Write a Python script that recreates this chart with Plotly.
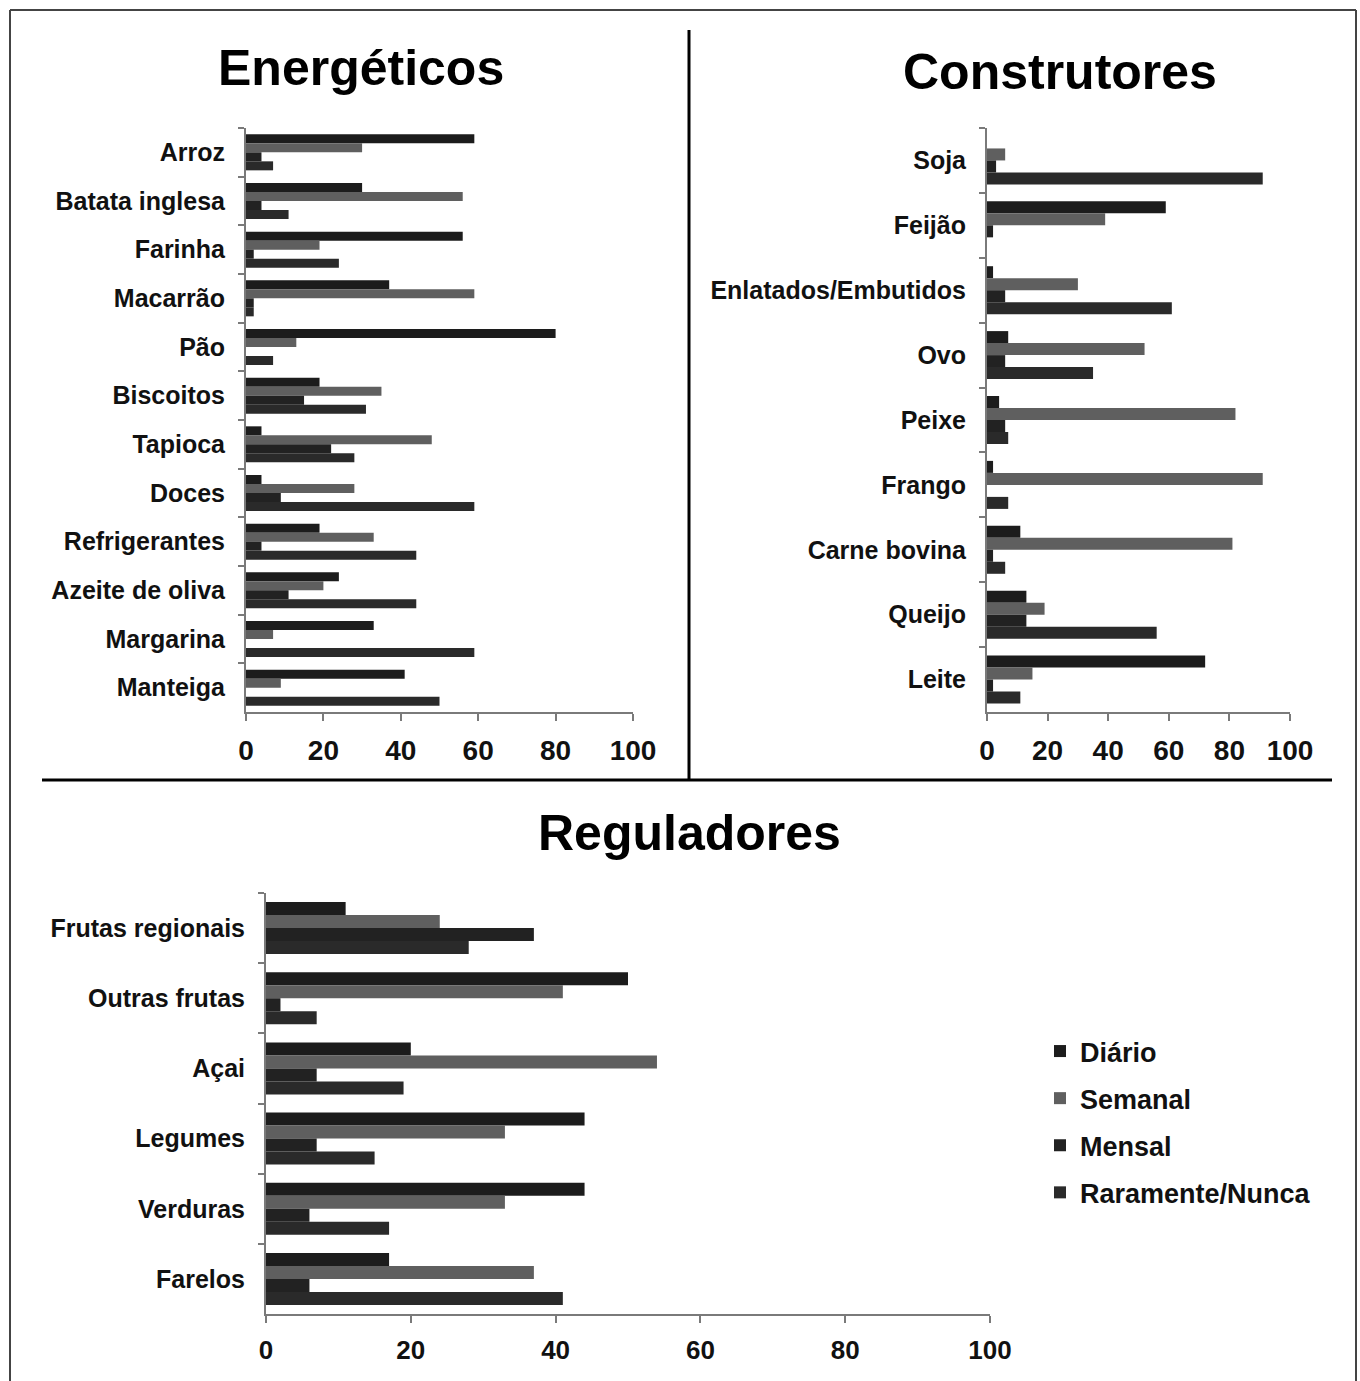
import plotly.graph_objects as go

# ---- data (% of respondents by consumption frequency) ----
series_names = ["Diário", "Semanal", "Mensal", "Raramente/Nunca"]
series_colors = ["#1c1c1c", "#5f5f5f", "#222222", "#2a2a2a"]

energ_cats = ["Arroz", "Batata inglesa", "Farinha", "Macarrão", "Pão", "Biscoitos",
              "Tapioca", "Doces", "Refrigerantes", "Azeite de oliva", "Margarina", "Manteiga"]
energ_diario = [59, 30, 56, 37, 80, 19, 4, 4, 19, 24, 33, 41]
energ_semanal = [30, 56, 19, 59, 13, 35, 48, 28, 33, 20, 7, 9]
energ_mensal = [4, 4, 2, 2, 0, 15, 22, 9, 4, 11, 0, 0]
energ_raro = [7, 11, 24, 2, 7, 31, 28, 59, 44, 44, 59, 50]

constr_cats = ["Soja", "Feijão", "Enlatados/Embutidos", "Ovo", "Peixe", "Frango",
               "Carne bovina", "Queijo", "Leite"]
constr_diario = [0, 59, 2, 7, 4, 2, 11, 13, 72]
constr_semanal = [6, 39, 30, 52, 82, 91, 81, 19, 15]
constr_mensal = [3, 2, 6, 6, 6, 0, 2, 13, 2]
constr_raro = [91, 0, 61, 35, 7, 7, 6, 56, 11]

regul_cats = ["Frutas regionais", "Outras frutas", "Açai", "Legumes", "Verduras", "Farelos"]
regul_diario = [11, 50, 20, 44, 44, 17]
regul_semanal = [24, 41, 54, 33, 33, 37]
regul_mensal = [37, 2, 7, 7, 6, 6]
regul_raro = [28, 7, 19, 15, 17, 41]

x_ticks = [0, 20, 40, 60, 80, 100]

W, H = 1360, 1381
FONT = "Liberation Sans, Arial, sans-serif"


def px(x):
    return x / W


def py(y):
    return 1 - y / H


panels = [
    # categories, series, x-axis id, y-axis id, x span (px), y span (px), title, title pos, label size, tick size
    (energ_cats, [energ_diario, energ_semanal, energ_mensal, energ_raro], "x", "y",
     (246, 633), (128, 712), "Energéticos", (361, 68), 25, 28),
    (constr_cats, [constr_diario, constr_semanal, constr_mensal, constr_raro], "x2", "y2",
     (987, 1290), (128, 712), "Construtores", (1060, 72), 25, 28),
    (regul_cats, [regul_diario, regul_semanal, regul_mensal, regul_raro], "x3", "y3",
     (266, 990), (893, 1314), "Reguladores", (689, 833), 25, 26),
]

fig = go.Figure()
layout_axes = {}
annotations = []

for i, (cats, values, xa, ya, xs, ys, title, tpos, lsize, tsize) in enumerate(panels):
    for name, color, vals in zip(series_names, series_colors, values):
        fig.add_trace(go.Bar(
            y=cats, x=vals, name=name, orientation="h",
            marker=dict(color=color, line=dict(width=0)),
            xaxis=xa, yaxis=ya,
            legendgroup=name, showlegend=(i == 2),
        ))
    xkey = "xaxis" if xa == "x" else "xaxis" + xa[1:]
    ykey = "yaxis" if ya == "y" else "yaxis" + ya[1:]
    layout_axes[xkey] = dict(
        domain=[px(xs[0]), px(xs[1])], range=[0, 100], anchor=ya, automargin=False,
        tickvals=x_ticks, ticks="outside", ticklen=7, tickwidth=2, tickcolor="#7a7a7a",
        showline=True, linecolor="#7a7a7a", linewidth=2, showgrid=False, zeroline=False,
        tickfont=dict(family=FONT, size=tsize, color="#111", weight="bold"),
        ticklabelstandoff=5, fixedrange=True,
    )
    layout_axes[ykey] = dict(
        domain=[py(ys[1]), py(ys[0])], anchor=xa, autorange="reversed", automargin=False,
        type="category", tickson="boundaries", ticks="outside", ticklen=6, tickwidth=2,
        tickcolor="#7a7a7a", showline=True, linecolor="#7a7a7a", linewidth=2,
        showgrid=False, tickfont=dict(family=FONT, size=lsize, color="#111", weight="bold"),
        ticklabelstandoff=14, fixedrange=True,
    )
    annotations.append(dict(
        text="<b>" + title + "</b>", x=px(tpos[0]), y=py(tpos[1]), xref="paper", yref="paper",
        xanchor="center", yanchor="middle", showarrow=False,
        font=dict(family=FONT, size=50, color="#000"),
    ))

shapes = [
    # outer frame
    dict(type="line", xref="paper", yref="paper", x0=px(10), x1=px(1356), y0=py(10), y1=py(10),
         line=dict(color="#444", width=2)),
    dict(type="line", xref="paper", yref="paper", x0=px(10), x1=px(10), y0=py(10), y1=py(1381),
         line=dict(color="#444", width=2)),
    dict(type="line", xref="paper", yref="paper", x0=px(1356), x1=px(1356), y0=py(10), y1=py(1381),
         line=dict(color="#444", width=2)),
    # panel dividers
    dict(type="line", xref="paper", yref="paper", x0=px(689), x1=px(689), y0=py(30), y1=py(779),
         line=dict(color="#000", width=3)),
    dict(type="line", xref="paper", yref="paper", x0=px(42), x1=px(1332), y0=py(780), y1=py(780),
         line=dict(color="#000", width=3)),
]

fig.update_layout(
    width=W, height=H, margin=dict(l=0, r=0, t=0, b=0, autoexpand=False),
    paper_bgcolor="white", plot_bgcolor="white",
    barmode="group", bargap=0.26, bargroupgap=0,
    annotations=annotations, shapes=shapes,
    showlegend=True,
    legend=dict(
        x=px(1040), y=py(1027), xanchor="left", yanchor="top",
        traceorder="grouped", tracegroupgap=9, itemwidth=30,
        font=dict(family=FONT, size=27, color="#111", weight="bold"),
        bgcolor="rgba(0,0,0,0)",
    ),
    **layout_axes,
)

fig.write_html("out.html")
